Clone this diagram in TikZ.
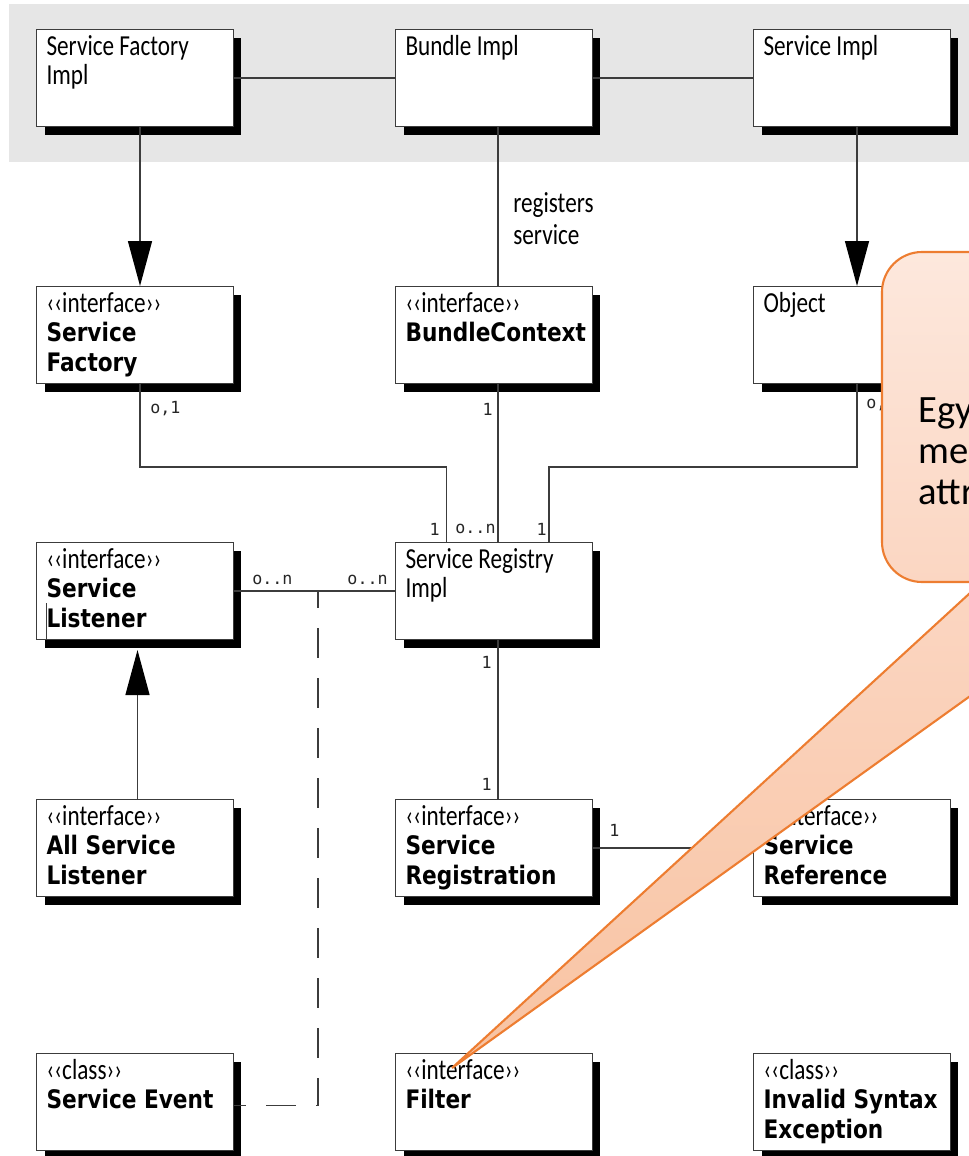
\documentclass[tikz,border=0pt]{standalone}
\usepackage{fontspec}
\usepackage{tikz}
\usetikzlibrary{arrows.meta,shadows}
\setmainfont{Carlito}
\newfontfamily\umllightfont[FakeStretch=0.8]{Carlito}
\newfontfamily\umlwidefont[FakeStretch=0.85]{DejaVu Sans}
\newfontfamily\umlmultfont{DejaVu Sans Mono}
\newcommand{\umllight}{\umllightfont\fontsize{16.5}{16.8}\selectfont}
\newcommand{\umlwide}{\umlwidefont\bfseries\fontsize{14.5}{16.8}\selectfont}
\newcommand{\umltext}[1]{\parbox[t][1.94cm][t]{3.94cm}{\leftskip=0.2cm\rightskip=0pt plus 1fil\rule{0pt}{14.5pt}#1}}

\definecolor{bandgray}{HTML}{E6E6E6}
\definecolor{linegray}{HTML}{3C3C3C}
\definecolor{calloutedge}{HTML}{ED7D31}
\definecolor{callouttop}{HTML}{FDE8DD}
\definecolor{calloutmid}{HTML}{FBD6C2}
\definecolor{calloutbottom}{HTML}{F8C3A2}

\begin{document}
\begin{tikzpicture}[x=0.02cm, y=-0.02cm,
    umlbox/.style={draw=linegray, line width=0.6pt, fill=white, anchor=north west, inner sep=0pt,
      general shadow={fill=black, shadow xshift=0.16cm, shadow yshift=-0.16cm}},
    assoc/.style={draw=linegray, line width=0.8pt},
    gen/.style={assoc, -{Triangle[length=0.9cm, width=0.48cm, color=black]}},
    dep/.style={draw=linegray, line width=0.8pt, dash pattern=on 0.6cm off 0.4cm, dash phase=0.36cm},
    mult/.style={font=\umlmultfont\fontsize{9.5}{11}\selectfont, text=black!85, inner sep=0pt}]
  \useasboundingbox (0,0) rectangle (969,1156);
  \clip (0,0) rectangle (969,1156);

  % implementation band
  \fill[bandgray] (9,4) rectangle (990,162);

  % classes
  \node[umlbox] (sfimpl) at (36,29) {\umltext{\umllight Service Factory\\Impl}};
  \node[umlbox] (bundleimpl) at (395,29) {\umltext{\umllight Bundle Impl}};
  \node[umlbox] (serviceimpl) at (753,29) {\umltext{\umllight Service Impl}};

  \node[umlbox] (factory) at (36,286) {\umltext{\umllight ‹‹interface››\\\umlwide Service\\Factory}};
  \node[umlbox] (context) at (395,286) {\umltext{\umllight ‹‹interface››\\\umlwide BundleContext}};
  \node[umlbox] (object) at (753,286) {\umltext{\umllight Object}};

  \node[umlbox] (listener) at (36,542) {\umltext{\umllight ‹‹interface››\\\umlwide Service\\Listener}};
  \node[umlbox] (registry) at (395,542) {\umltext{\umllight Service Registry\\Impl}};

  \node[umlbox] (allistener) at (36,799) {\umltext{\umllight ‹‹interface››\\\umlwide All Service\\Listener}};
  \node[umlbox] (registration) at (395,799) {\umltext{\umllight ‹‹interface››\\\umlwide Service\\Registration}};
  \node[umlbox] (reference) at (753,799) {\umltext{\umllight ‹‹interface››\\\umlwide Service\\Reference}};

  \node[umlbox] (event) at (36,1053) {\umltext{\umllight ‹‹class››\\\umlwide Service Event}};
  \node[umlbox] (filter) at (395,1053) {\umltext{\umllight ‹‹interface››\\\umlwide Filter}};
  \node[umlbox] (invalid) at (753,1053) {\umltext{\umllight ‹‹class››\\\umlwide Invalid Syntax\\Exception}};

  \draw[line width=0.5pt, linegray] ([xshift=0.2cm]listener.south west) -- +(0,-37);

  % connectors
  \draw[assoc] (sfimpl.east) -- (bundleimpl.west);
  \draw[assoc] (bundleimpl.east) -- (serviceimpl.west);
  \draw[gen] ([xshift=0.1cm]sfimpl.south) -- ([xshift=0.1cm]factory.north);
  \draw[assoc] ([xshift=0.08cm]bundleimpl.south) -- ([xshift=0.08cm]context.north);
  \draw[gen] ([xshift=0.1cm]serviceimpl.south) -- ([xshift=0.1cm]object.north);
  \node[anchor=base west, inner sep=0pt] (registers) at (513,212)
    {\parbox[t]{2cm}{\umllightfont\fontsize{16.5}{18.7}\selectfont registers\\service}};

  \draw[assoc] ([xshift=0.1cm]factory.south) -- +(0,83) -| ([xshift=-0.95cm]registry.north);
  \draw[assoc] ([xshift=0.08cm]context.south) -- ([xshift=0.08cm]registry.north);
  \draw[assoc] ([xshift=0.1cm]object.south) -- +(0,83) -| ([xshift=1.1cm]registry.north);
  \draw[assoc] (listener.east) -- (registry.west);
  \coordinate (evjoin) at (318,590.5);
  \draw[dep] ([yshift=-0.07cm]event.east) -| (evjoin);
  \draw[gen, shorten >=0.2cm] ([xshift=0.05cm]allistener.north) -- ([xshift=0.05cm]listener.south);
  \draw[assoc] ([xshift=0.08cm]registry.south) -- ([xshift=0.08cm]registration.north);
  \draw[assoc] (registration.east) -- (reference.west);

  % multiplicities
  \node[mult, anchor=west] (m-factory) at (150,409) {o,1};
  \node[mult, anchor=east] (m-context) at (493,409) {1};
  \node[mult, anchor=west] (m-object) at (866,404) {o,1};
  \node[mult, anchor=east] (m-regfac) at (440,529) {1};
  \node[mult, anchor=west] (m-regctx) at (455,529) {o..n};
  \node[mult, anchor=east] (m-regobj) at (547,529) {1};
  \node[mult, anchor=west] (m-lis) at (252,580) {o..n};
  \node[mult, anchor=east] (m-reglis) at (388,580) {o..n};
  \node[mult, anchor=east] (m-regdown) at (492,662) {1};
  \node[mult, anchor=east] (m-regup) at (492,784) {1};
  \node[mult, anchor=west] (m-regref) at (609,830) {1};

  % callout
  \path[draw=calloutedge, line width=1.2pt, top color=calloutmid, bottom color=calloutbottom]
    (452,1068) -- (982,582) -- (1129,582) -- cycle;
  \path[draw=calloutedge, line width=1.2pt, rounded corners=0.8cm, top color=callouttop, bottom color=calloutmid]
    (882,252) rectangle (1300,582);
  \node[anchor=base west, inner sep=0pt] (note) at (918,422)
    {\parbox[t]{3cm}{\fontsize{22}{23.5}\selectfont Egy\\me\\attr}};
\end{tikzpicture}
\end{document}
